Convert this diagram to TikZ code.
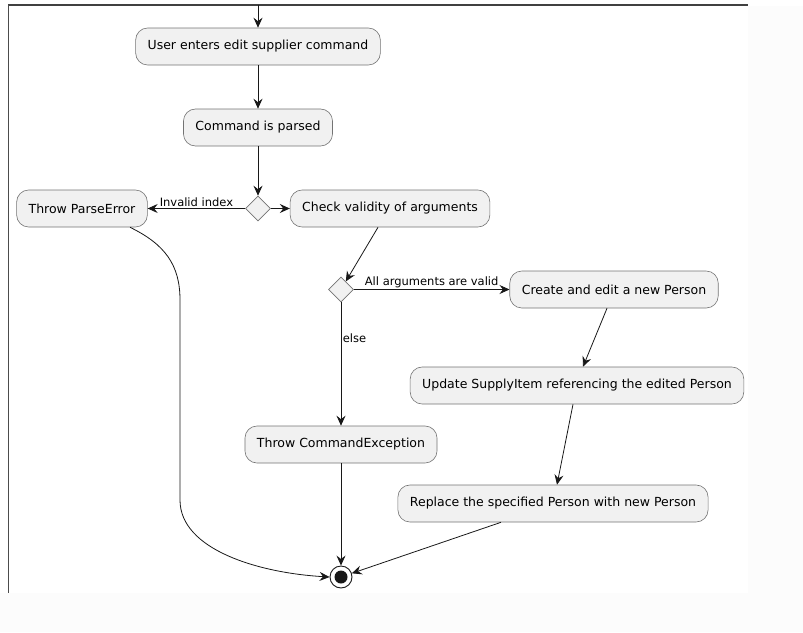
\documentclass[tikz,border=0pt]{standalone}
\usepackage{fontspec}
\setmainfont{DejaVu Sans}
\usepackage{tikz}
\usetikzlibrary{shapes.geometric, arrows, arrows.meta}
\definecolor{boxfill}{HTML}{F1F1F1}
\definecolor{linecol}{HTML}{181818}
\tikzstyle{process} = [rectangle, rounded corners=12pt, minimum height=37pt, inner xsep=12pt, text centered, draw=black!55, line width=0.6pt, fill=boxfill, font=\fontsize{12.5}{14}\selectfont]
\tikzstyle{decision} = [diamond, minimum width=25pt, minimum height=25pt, inner sep=0pt, draw=black!55, line width=0.6pt, fill=boxfill]
\tikzstyle{finish} = [circle, minimum size=22pt, inner sep=0pt, draw=linecol, line width=0.9pt, fill=white, path picture={\fill[linecol] (path picture bounding box.center) circle (6.5pt);}]
\tikzstyle{arrow} = [line width=0.8pt, draw=linecol, ->, >={Stealth[length=10pt, width=9pt, inset=3.5pt]}]
\tikzstyle{lbl} = [font=\fontsize{11.5}{13}\selectfont, inner sep=1.5pt]

\begin{document}
\begin{tikzpicture}[node distance=81pt]

\useasboundingbox (0pt,0pt) rectangle (803pt,-632pt);
\fill [white!99!black] (748pt,-6pt) rectangle (803pt,-632pt);
\fill [white!99!black] (0pt,-593pt) rectangle (748pt,-632pt);
\draw [line width=2pt, black!75] (8pt,-5pt) -- (748pt,-5pt);
\draw [line width=1pt, black!70] (8pt,-5pt) -- (8pt,-593pt);

\node (start) [process] at (258pt,-46.5pt) {User enters edit supplier command};
\node (pro1) [process, below of=start] {Command is parsed};
\node (dec1) [decision, below of=pro1] {};
\node (pro2) [process, left of=dec1, xshift=-95pt] {Throw ParseError};
\node (pro3) [process, right of=dec1, xshift=51pt] {Check validity of arguments};
\node (dec2) [decision, below of=pro3, xshift=-49pt] {};
\node (pro4) [process, right of=dec2, xshift=192pt] {Create and edit a new Person};
\node (pro5) [process, below of=pro4, xshift=-37pt, yshift=-15pt] {Update SupplyItem referencing the edited Person};
\node (pro6) [process, below of=pro5, xshift=-24pt, yshift=-37pt] {Replace the specified Person with new Person};
\node (pro7) [process, below of=dec2, yshift=-74pt] {Throw CommandException};
\node (stop) [finish, below of=pro7, yshift=-51.5pt] {};

\coordinate (entry) at (258pt,-5pt);
\coordinate (bend1) at (180pt,-300pt);
\coordinate (bend2) at (180pt,-500pt);

\draw [arrow] (entry) -- (start);
\draw [arrow] (start) -- (pro1);
\draw [arrow] (pro1) -- (dec1);
\draw [arrow] (dec1) -- node[lbl, anchor=south] {Invalid index} (pro2);
\draw [arrow] (dec1) -- (pro3);
\draw [arrow] ([xshift=-12pt]pro3.south) -- (dec2);
\draw [arrow] (dec2) -- node[lbl, anchor=south] {All arguments are valid} (pro4);
\draw [arrow] (dec2) -- node[lbl, anchor=west, pos=0.29] {else} (pro7);
\draw [arrow] ([xshift=-7pt]pro4.south) -- ([xshift=6pt]pro5.north);
\draw [arrow] ([xshift=-4pt]pro5.south) -- ([xshift=4pt]pro6.north);
\draw [arrow] ([xshift=-52pt]pro6.south) -- (stop);
\draw [arrow] (pro7) -- (stop);
\draw [arrow] ([xshift=48pt]pro2.south) .. controls +(35pt,-17pt) and +(0pt,35pt) .. (bend1) -- (bend2) .. controls +(0pt,-50pt) and +(-70pt,4pt) .. (stop.west);

\end{tikzpicture}
\end{document}
